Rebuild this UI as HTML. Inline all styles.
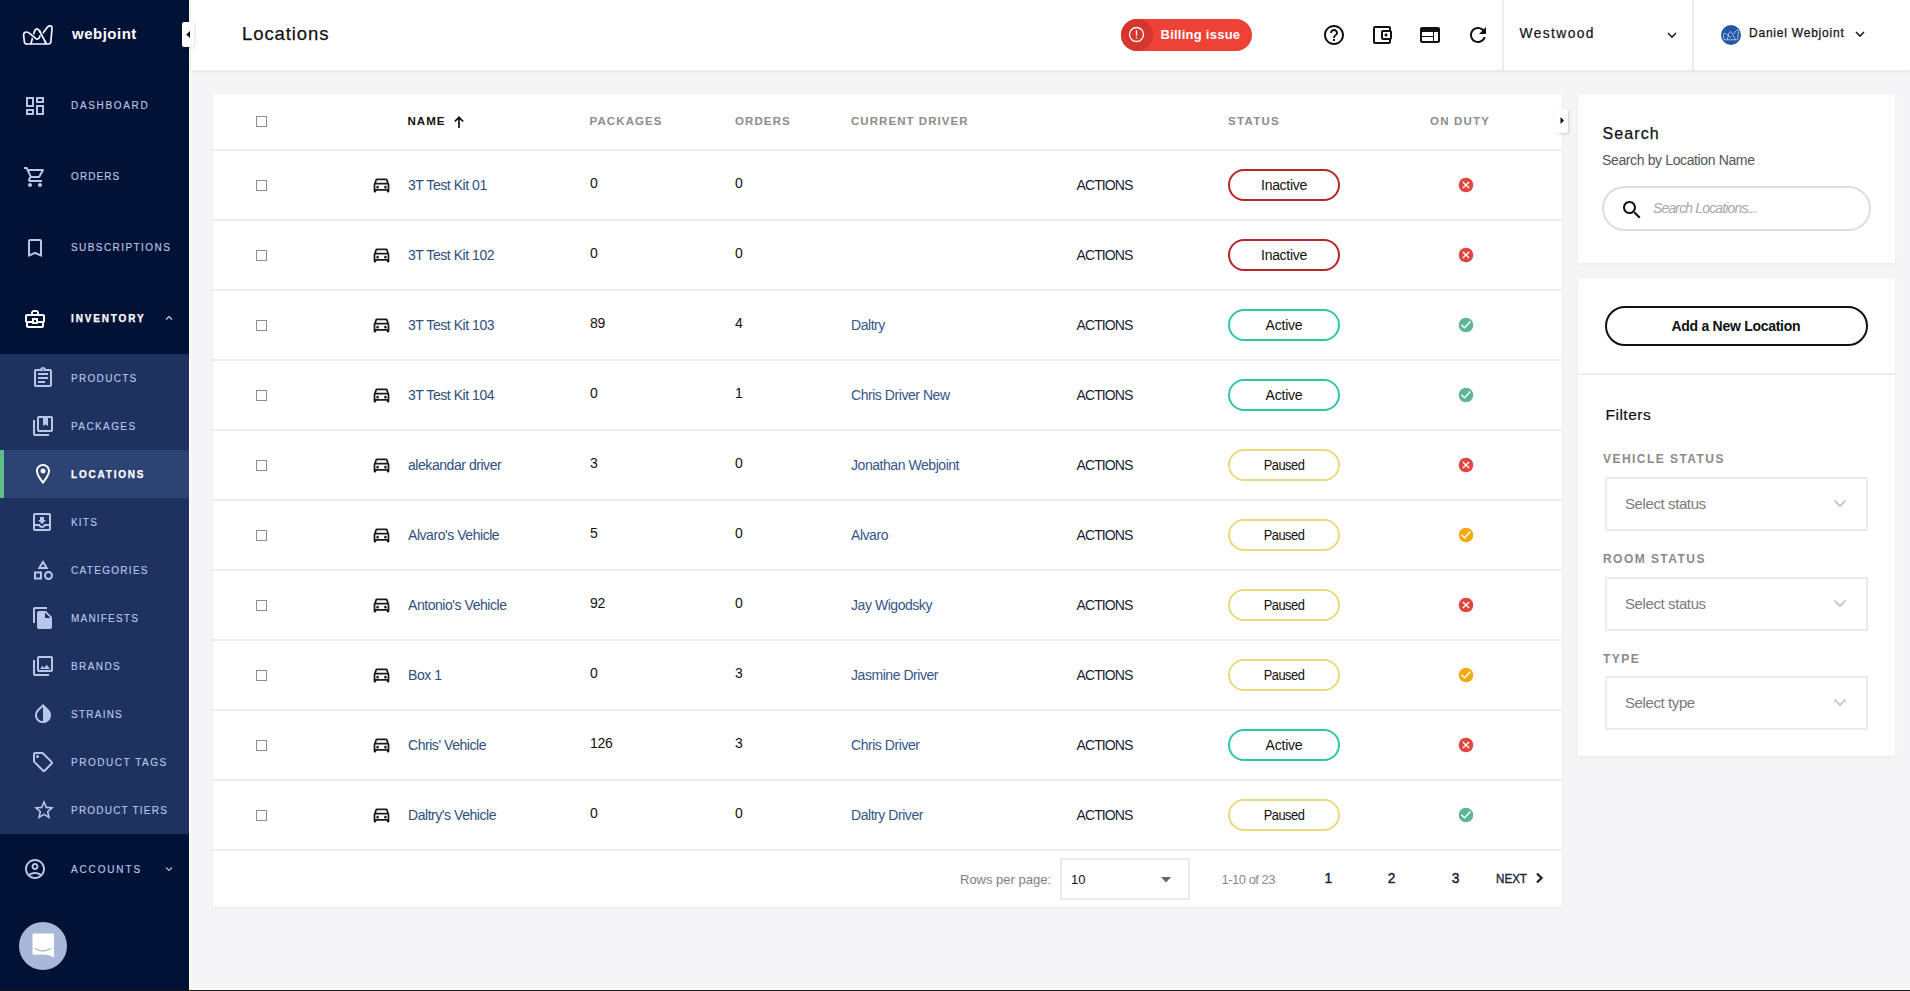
<!DOCTYPE html>
<html><head><meta charset="utf-8"><title>Locations</title>
<style>
html,body{margin:0;padding:0;width:1910px;height:991px;overflow:hidden;background:#F5F5F7}
body{position:relative;font-family:"Liberation Sans", sans-serif}
.t{position:absolute;white-space:nowrap;font-family:"Liberation Sans", sans-serif}
svg{display:block}
</style></head><body>
<div style="position:absolute;left:0px;top:0px;width:1910px;height:991px;background:#F5F5F7"></div>
<div style="position:absolute;left:189px;top:0px;width:1px;height:990px;background:#fff"></div>
<div style="position:absolute;left:190px;top:0px;width:1px;height:990px;background:#FAFAFB"></div>
<div style="position:absolute;left:189px;top:988px;width:1721px;height:2px;background:#fff"></div>
<div style="position:absolute;left:0px;top:990px;width:1910px;height:1px;background:#161616"></div>
<div style="position:absolute;left:0px;top:0px;width:189px;height:990px;background:#021237"></div>
<div style="position:absolute;left:0px;top:354px;width:189px;height:480px;background:#1E3260"></div>
<div style="position:absolute;left:0px;top:450px;width:189px;height:48px;background:#2C4373"></div>
<div style="position:absolute;left:0px;top:450px;width:4px;height:48px;background:#5FBF8C"></div>
<svg style="position:absolute;left:20px;top:20px" width="38" height="30" viewBox="0 0 38 30"><g fill="none" stroke-linejoin="round" stroke-linecap="round"><path d="M6.5 24 L28.5 24 Q30.6 24 30.8 22 L32 8.5 Q32.2 5.6 29.6 5.8 Q28.2 6 27.2 7.4 L22.6 13.6" stroke="#F4F6FF" stroke-width="1.7"/><path d="M11 23.6 L14.2 12 Q15.3 8.8 16.9 8.8 Q18.5 8.8 19.6 11 L26.2 23.6" stroke="#F4F6FF" stroke-width="1.7"/><path d="M20.3 12.4 L24.6 20.6" stroke="#021237" stroke-width="3.6" stroke-linecap="butt"/><path d="M19.6 11 L26.2 23.6" stroke="#F4F6FF" stroke-width="1.7"/><path d="M9.6 13.4 L15.6 18.4" stroke="#021237" stroke-width="3.6" stroke-linecap="butt"/><path d="M6.5 24 Q4.6 24 4.4 22 L3.6 15.2 Q3.5 12 6.6 12 Q8 12 9.6 13.4 L15.6 18.4 Q17.4 19.8 19 18.2 Q19.9 17.2 19.9 15.8" stroke="#F4F6FF" stroke-width="1.7"/></g></svg>
<div class="t" style="left:72.00px;top:26.10px;font-size:15px;line-height:15px;font-weight:700;color:#fff;letter-spacing:0.5px;font-style:normal;">webjoint</div>
<svg style="position:absolute;left:23px;top:94px;" width="24" height="24" viewBox="0 0 24 24"><path fill="#B8C6E8" d="M19 5v2h-4V5h4M9 5v6H5V5h4m10 8v6h-4v-6h4M9 17v2H5v-2h4M21 3h-8v6h8V3zM11 3H3v10h8V3zm10 8h-8v10h8V11zm-10 4H3v6h8v-6z"/></svg>
<div class="t" style="left:71.00px;top:100.53px;font-size:10px;line-height:10px;font-weight:400;color:#B8C6E8;letter-spacing:1.66px;font-style:normal;-webkit-text-stroke:0.15px #B8C6E8">DASHBOARD</div>
<svg style="position:absolute;left:23px;top:165px;" width="24" height="24" viewBox="0 0 24 24"><path fill="#B8C6E8" d="M15.55 13c.75 0 1.41-.41 1.75-1.03l3.58-6.49c.37-.66-.11-1.48-.87-1.48H5.21l-.94-2H1v2h2l3.6 7.59-1.35 2.44C4.52 15.37 5.48 17 7 17h12v-2H7l1.1-2h7.45zM6.16 6h12.15l-2.76 5H8.53L6.16 6zM7 18c-1.1 0-1.99.9-1.99 2S5.9 22 7 22s2-.9 2-2-.9-2-2-2zm10 0c-1.1 0-1.99.9-1.99 2s.89 2 1.99 2 2-.9 2-2-.9-2-2-2z"/></svg>
<div class="t" style="left:71.00px;top:171.53px;font-size:10px;line-height:10px;font-weight:400;color:#B8C6E8;letter-spacing:1.1px;font-style:normal;-webkit-text-stroke:0.15px #B8C6E8">ORDERS</div>
<svg style="position:absolute;left:23px;top:236px;" width="24" height="24" viewBox="0 0 24 24"><path fill="#B8C6E8" d="M17 3H7c-1.1 0-1.99.9-1.99 2L5 21l7-3 7 3V5c0-1.1-.9-2-2-2zm0 15l-5-2.18L7 18V5h10v13z"/></svg>
<div class="t" style="left:71.00px;top:242.53px;font-size:10px;line-height:10px;font-weight:400;color:#B8C6E8;letter-spacing:1.43px;font-style:normal;-webkit-text-stroke:0.15px #B8C6E8">SUBSCRIPTIONS</div>
<svg style="position:absolute;left:23px;top:307px;" width="24" height="24" viewBox="0 0 24 24"><path fill="#fff" d="M20 7h-4V5l-2-2h-4L8 5v2H4c-1.1 0-2 .9-2 2v5c0 .75.4 1.38 1 1.73V19c0 1.11.89 2 2 2h14c1.11 0 2-.89 2-2v-3.28c.59-.35 1-.99 1-1.72V9c0-1.1-.9-2-2-2zM10 5h4v2h-4V5zM4 9h16v5h-5v-3H9v3H4V9zm9 6h-2v-2h2v2zm6 4H5v-3h4v1h6v-1h4v3z"/></svg>
<div class="t" style="left:71.00px;top:313.54px;font-size:10px;line-height:10px;font-weight:700;color:#fff;letter-spacing:1.85px;font-style:normal;-webkit-text-stroke:0.25px #fff">INVENTORY</div>
<div style="position:absolute;left:166px;top:317px;width:6px;height:4px;"></div>
<svg style="position:absolute;left:165px;top:315px" width="8" height="6" viewBox="0 0 8 6"><path d="M1 4.5 L4 1.5 L7 4.5" fill="none" stroke="#C9D3EC" stroke-width="1.2"/></svg>
<svg style="position:absolute;left:31px;top:366px;" width="24" height="24" viewBox="0 0 24 24"><path fill="#B8C6E8" d="M7 15h7v2H7zm0-4h10v2H7zm0-4h10v2H7zm12-4h-4.18C14.4 1.84 13.3 1 12 1c-1.3 0-2.4.84-2.82 2H5c-.14 0-.27.01-.4.04-.39.08-.74.28-1.01.55-.18.18-.33.4-.43.64-.1.23-.16.49-.16.77v14c0 .27.06.54.16.78s.25.45.43.64c.27.27.62.47 1.01.55.13.02.26.03.4.03h14c1.1 0 2-.9 2-2V5c0-1.1-.9-2-2-2zm-7-.25c.41 0 .75.34.75.75s-.34.75-.75.75-.75-.34-.75-.75.34-.75.75-.75zM19 19H5V5h14v14z"/></svg>
<div class="t" style="left:71.00px;top:373.54px;font-size:10px;line-height:10px;font-weight:400;color:#B8C6E8;letter-spacing:1.31px;font-style:normal;-webkit-text-stroke:0.15px #B8C6E8">PRODUCTS</div>
<svg style="position:absolute;left:31px;top:414px;" width="24" height="24" viewBox="0 0 24 24"><path fill="#B8C6E8" d="M4 6H2v14c0 1.1.9 2 2 2h14v-2H4V6zm16-4H8c-1.1 0-2 .9-2 2v12c0 1.1.9 2 2 2h12c1.1 0 2-.9 2-2V4c0-1.1-.9-2-2-2zm0 14H8V4h4v8l2.5-1.5L17 12V4h3v12z"/></svg>
<div class="t" style="left:71.00px;top:421.54px;font-size:10px;line-height:10px;font-weight:400;color:#B8C6E8;letter-spacing:1.4px;font-style:normal;-webkit-text-stroke:0.15px #B8C6E8">PACKAGES</div>
<svg style="position:absolute;left:31px;top:462px;" width="24" height="24" viewBox="0 0 24 24"><path fill="#fff" d="M12 2C8.13 2 5 5.13 5 9c0 5.25 7 13 7 13s7-7.75 7-13c0-3.87-3.13-7-7-7zM7 9c0-2.76 2.24-5 5-5s5 2.24 5 5c0 2.88-2.88 7.19-5 9.88C9.92 16.21 7 11.85 7 9zM12 11.5a2.5 2.5 0 100-5 2.5 2.5 0 000 5z"/></svg>
<div class="t" style="left:71.00px;top:469.54px;font-size:10px;line-height:10px;font-weight:700;color:#fff;letter-spacing:1.8px;font-style:normal;-webkit-text-stroke:0.25px #fff">LOCATIONS</div>
<svg style="position:absolute;left:30px;top:510px;" width="24" height="24" viewBox="0 0 24 24"><path fill="#B8C6E8" d="M19 3H4.99C3.88 3 3.01 3.9 3.01 5L3 19c0 1.1.88 2 1.99 2H19c1.1 0 2-.9 2-2V5c0-1.1-.9-2-2-2zm0 16H5v-3h3.56c.69 1.19 1.97 2 3.45 2s2.75-.81 3.45-2H19v3zm0-5h-4.99c0 1.1-.9 2-2 2s-2-.9-2-2H5V5h14v9zm-3-4h-2V7h-4v3H8l4 4 4-4z"/></svg>
<div class="t" style="left:71.00px;top:517.53px;font-size:10px;line-height:10px;font-weight:400;color:#B8C6E8;letter-spacing:1.19px;font-style:normal;-webkit-text-stroke:0.15px #B8C6E8">KITS</div>
<svg style="position:absolute;left:31px;top:558px;" width="24" height="24" viewBox="0 0 24 24"><path fill="#B8C6E8" d="M12 2l-5.5 9h11L12 2zm0 3.84L13.93 9h-3.87L12 5.84zM17.5 13c-2.49 0-4.5 2.01-4.5 4.5s2.01 4.5 4.5 4.5 4.5-2.01 4.5-4.5-2.01-4.5-4.5-4.5zm0 7c-1.38 0-2.5-1.12-2.5-2.5s1.12-2.5 2.5-2.5 2.5 1.12 2.5 2.5-1.12 2.5-2.5 2.5zM3 21.5h8v-8H3v8zm2-6h4v4H5v-4z"/></svg>
<div class="t" style="left:71.00px;top:565.53px;font-size:10px;line-height:10px;font-weight:400;color:#B8C6E8;letter-spacing:1.3px;font-style:normal;-webkit-text-stroke:0.15px #B8C6E8">CATEGORIES</div>
<svg style="position:absolute;left:31px;top:606px;" width="24" height="24" viewBox="0 0 24 24"><path fill="#B8C6E8" d="M16 1H4c-1.1 0-2 .9-2 2v14h2V3h12V1zm-1 4l6 6v10c0 1.1-.9 2-2 2H7.99C6.89 23 6 22.1 6 21l.01-14c0-1.1.89-2 1.99-2h7zm-1 7h5.5L14 6.5V12z"/></svg>
<div class="t" style="left:71.00px;top:613.53px;font-size:10px;line-height:10px;font-weight:400;color:#B8C6E8;letter-spacing:1.2px;font-style:normal;-webkit-text-stroke:0.15px #B8C6E8">MANIFESTS</div>
<svg style="position:absolute;left:31px;top:654px;" width="24" height="24" viewBox="0 0 24 24"><path fill="#B8C6E8" d="M20 4v12H8V4h12m0-2H8c-1.1 0-2 .9-2 2v12c0 1.1.9 2 2 2h12c1.1 0 2-.9 2-2V4c0-1.1-.9-2-2-2zm-8.5 9.67l1.69 2.26 2.48-3.1L19 15H9zM2 6v14c0 1.1.9 2 2 2h14v-2H4V6H2z"/></svg>
<div class="t" style="left:71.00px;top:661.53px;font-size:10px;line-height:10px;font-weight:400;color:#B8C6E8;letter-spacing:1.42px;font-style:normal;-webkit-text-stroke:0.15px #B8C6E8">BRANDS</div>
<svg style="position:absolute;left:31px;top:702px;" width="24" height="24" viewBox="0 0 24 24"><path fill="#B8C6E8" d="M12 4.81V19c-3.31 0-6-2.63-6-5.87 0-1.56.62-3.03 1.75-4.14L12 4.81M6.35 7.56C4.9 8.99 4 10.96 4 13.13 4 17.48 7.58 21 12 21c4.42 0 8-3.52 8-7.87 0-2.17-.9-4.14-2.35-5.57L12 2 6.35 7.56z"/></svg>
<div class="t" style="left:71.00px;top:709.53px;font-size:10px;line-height:10px;font-weight:400;color:#B8C6E8;letter-spacing:1.24px;font-style:normal;-webkit-text-stroke:0.15px #B8C6E8">STRAINS</div>
<svg style="position:absolute;left:31px;top:750px;" width="24" height="24" viewBox="0 0 24 24"><path fill="#B8C6E8" d="M21.41 11.41l-8.83-8.83c-.37-.37-.88-.58-1.41-.58H4c-1.1 0-2 .9-2 2v7.17c0 .53.21 1.04.59 1.41l8.83 8.83c.78.78 2.05.78 2.83 0l7.17-7.17c.78-.78.78-2.04-.01-2.83zM12.83 20L4 11.17V4h7.17L20 12.83 12.83 20zM6.5 5a1.5 1.5 0 1 0 0 3 1.5 1.5 0 0 0 0-3z"/></svg>
<div class="t" style="left:71.00px;top:757.53px;font-size:10px;line-height:10px;font-weight:400;color:#B8C6E8;letter-spacing:1.54px;font-style:normal;-webkit-text-stroke:0.15px #B8C6E8">PRODUCT TAGS</div>
<svg style="position:absolute;left:31.5px;top:798px;" width="24" height="24" viewBox="0 0 24 24"><path fill="#B8C6E8" d="M22 9.24l-7.19-.62L12 2 9.19 8.63 2 9.24l5.46 4.73L5.82 21 12 17.27 18.18 21l-1.63-7.03L22 9.24zM12 15.4l-3.76 2.27 1-4.28-3.32-2.88 4.38-.38L12 6.1l1.71 4.04 4.38.38-3.32 2.88 1 4.28L12 15.4z"/></svg>
<div class="t" style="left:71.00px;top:805.53px;font-size:10px;line-height:10px;font-weight:400;color:#B8C6E8;letter-spacing:1.21px;font-style:normal;-webkit-text-stroke:0.15px #B8C6E8">PRODUCT TIERS</div>
<svg style="position:absolute;left:23px;top:857px;" width="24" height="24" viewBox="0 0 24 24"><path fill="#B8C6E8" d="M12 2C6.48 2 2 6.48 2 12s4.48 10 10 10 10-4.48 10-10S17.52 2 12 2zM7.35 18.5C8.66 17.56 10.26 17 12 17s3.34.56 4.65 1.5c-1.31.94-2.91 1.5-4.65 1.5s-3.34-.56-4.65-1.5zm10.79-1.38C16.45 15.8 14.32 15 12 15s-4.45.8-6.14 2.12C4.7 15.73 4 13.95 4 12c0-4.42 3.58-8 8-8s8 3.58 8 8c0 1.95-.7 3.73-1.86 5.12zM12 5.93c-1.93 0-3.5 1.57-3.5 3.5s1.57 3.5 3.5 3.5 3.5-1.57 3.5-3.5-1.57-3.5-3.5-3.5zm0 5c-.83 0-1.5-.67-1.5-1.5s.67-1.5 1.5-1.5 1.5.67 1.5 1.5-.67 1.5-1.5 1.5z"/></svg>
<div class="t" style="left:71.00px;top:864.53px;font-size:10px;line-height:10px;font-weight:400;color:#B8C6E8;letter-spacing:1.85px;font-style:normal;-webkit-text-stroke:0.15px #B8C6E8">ACCOUNTS</div>
<svg style="position:absolute;left:165px;top:866px" width="8" height="6" viewBox="0 0 8 6"><path d="M1 1.5 L4 4.5 L7 1.5" fill="none" stroke="#B2C1E4" stroke-width="1.2"/></svg>
<div style="position:absolute;left:19px;top:922px;width:48px;height:48px;background:#A9B8D8;border-radius:50%"></div>
<svg style="position:absolute;left:32px;top:933px" width="23" height="25" viewBox="0 0 23 25"><path d="M0.5 1.8 Q0.5 0.5 1.8 0.5 L20.7 0.5 Q22 0.5 22 1.8 L22 24.5 Q17 21.4 11 21.4 L1.8 21.7 Q0.5 21.7 0.5 20.4 Z" fill="#fff"/><path d="M3.5 15.6 Q11 20.5 18.5 15.6" fill="none" stroke="#9AA3B8" stroke-width="1.1" stroke-linecap="round"/></svg>
<div style="position:absolute;left:191px;top:0px;width:1719px;height:70px;background:#fff;box-shadow:0 1px 4px rgba(0,0,0,0.09)"></div>
<div class="t" style="left:242.00px;top:25.34px;font-size:18.5px;line-height:18.5px;font-weight:400;color:#111;letter-spacing:0.9px;font-style:normal;-webkit-text-stroke:0.25px #111">Locations</div>
<div style="position:absolute;left:1121px;top:19px;width:131px;height:32px;background:#EE4236;border-radius:16px;overflow:hidden"></div>
<div style="position:absolute;left:1121px;top:19px;width:32px;height:32px;background:#D5362D;border-radius:16px"></div>
<svg style="position:absolute;left:1128px;top:26px" width="17" height="17" viewBox="0 0 17 17"><circle cx="8.5" cy="8.5" r="7" fill="none" stroke="#fff" stroke-width="1.3"/><rect x="7.8" y="4.3" width="1.4" height="5.6" fill="#fff"/><rect x="7.8" y="11" width="1.4" height="1.4" fill="#fff"/></svg>
<div class="t" style="left:1160.50px;top:27.60px;font-size:13px;line-height:13px;font-weight:700;color:#fff;letter-spacing:0.25px;font-style:normal;">Billing issue</div>
<svg style="position:absolute;left:1322px;top:23px;" width="24" height="24" viewBox="0 0 24 24"><path fill="#111" d="M11 18h2v-2h-2v2zm1-16C6.48 2 2 6.48 2 12s4.48 10 10 10 10-4.48 10-10S17.52 2 12 2zm0 18c-4.41 0-8-3.59-8-8s3.59-8 8-8 8 3.59 8 8-3.59 8-8 8zm0-14c-2.21 0-4 1.79-4 4h2c0-1.1.9-2 2-2s2 .9 2 2c0 2-3 1.75-3 5h2c0-2.25 3-2.5 3-5 0-2.21-1.79-4-4-4z"/></svg>
<svg style="position:absolute;left:1370px;top:23px;" width="24" height="24" viewBox="0 0 24 24"><path fill="#111" d="M21 7.28V5c0-1.1-.9-2-2-2H5c-1.11 0-2 .9-2 2v14c0 1.1.89 2 2 2h14c1.1 0 2-.9 2-2v-2.28c.59-.35 1-.98 1-1.72V9c0-.74-.41-1.37-1-1.72zM20 9v6h-7V9h7zM5 19V5h14v2h-6c-1.1 0-2 .9-2 2v6c0 1.1.9 2 2 2h6v2H5zM16 13.5c.83 0 1.5-.67 1.5-1.5s-.67-1.5-1.5-1.5-1.5.67-1.5 1.5.67 1.5 1.5 1.5z"/></svg>
<svg style="position:absolute;left:1418px;top:23px;" width="24" height="24" viewBox="0 0 24 24"><path fill="#111" d="M20 4H4c-1.1 0-1.99.9-1.99 2L2 18c0 1.1.9 2 2 2h16c1.1 0 2-.9 2-2V6c0-1.1-.9-2-2-2zm-5 14H4v-4h11v4zm0-5H4V9h11v4zm5 5h-4V9h4v9z"/></svg>
<svg style="position:absolute;left:1466px;top:23px;" width="24" height="24" viewBox="0 0 24 24"><path fill="#111" d="M17.65 6.35C16.2 4.9 14.21 4 12 4c-4.42 0-7.99 3.58-7.99 8s3.57 8 7.99 8c3.73 0 6.84-2.55 7.73-6h-2.08c-.82 2.33-3.04 4-5.65 4-3.31 0-6-2.69-6-6s2.69-6 6-6c1.66 0 3.14.69 4.22 1.78L13 11h7V4l-2.35 2.35z"/></svg>
<div style="position:absolute;left:1502px;top:0px;width:2px;height:70px;background:#EDEDED"></div>
<div style="position:absolute;left:1692px;top:0px;width:2px;height:70px;background:#EDEDED"></div>
<div class="t" style="left:1519.50px;top:26.92px;font-size:13.8px;line-height:13.8px;font-weight:400;color:#111;letter-spacing:1.4px;font-style:normal;-webkit-text-stroke:0.2px #111">Westwood</div>
<svg style="position:absolute;left:1666px;top:31px" width="12" height="8" viewBox="0 0 12 8"><path d="M2 2 L6 6 L10 2" fill="none" stroke="#222" stroke-width="1.6"/></svg>
<div style="position:absolute;left:1721px;top:25px;width:20px;height:20px;background:#2456A6;border-radius:50%"></div>
<svg style="position:absolute;left:1723px;top:28px" width="16" height="14" viewBox="3 4 30 22"><g fill="none" stroke="#CAD8F6" stroke-width="1.5" stroke-linejoin="round"><path d="M6.5 24 L28.5 24 Q30.6 24 30.8 22 L32 8.5 Q32.2 5.6 29.6 5.8 Q28.2 6 27.2 7.4 L22.8 13.2"/><path d="M6.5 24 Q4.6 24 4.4 22 L3.6 15.2 Q3.5 12 6.6 12 Q8 12 9.6 13.4 L15.6 18.4 Q17.4 19.8 19 18.2"/><path d="M11 23.6 L14.2 12 Q15.3 8.8 16.9 8.8 Q18.5 8.8 19.6 11 L26.2 23.6"/></g></svg>
<div class="t" style="left:1749.00px;top:27.44px;font-size:12px;line-height:12px;font-weight:400;color:#111;letter-spacing:0.78px;font-style:normal;-webkit-text-stroke:0.25px #111">Daniel Webjoint</div>
<svg style="position:absolute;left:1854px;top:30px" width="12" height="8" viewBox="0 0 12 8"><path d="M2 2 L6 6 L10 2" fill="none" stroke="#222" stroke-width="1.6"/></svg>
<div style="position:absolute;left:182px;top:22px;width:12px;height:25px;background:#fff;border-radius:2px;box-shadow:1px 1px 3px rgba(0,0,0,0.12)"></div>
<svg style="position:absolute;left:185px;top:30px" width="6" height="9" viewBox="0 0 6 9"><path d="M5 1 L1.2 4.5 L5 8 Z" fill="#111"/></svg>
<div style="position:absolute;left:213px;top:94px;width:1349px;height:813px;background:#fff;box-shadow:0 1px 3px rgba(0,0,0,0.06)"></div>
<div style="position:absolute;left:213px;top:149px;width:1349px;height:2px;background:#EDEDED"></div>
<div style="position:absolute;left:213px;top:219px;width:1349px;height:2px;background:#EDEDED"></div>
<div style="position:absolute;left:213px;top:289px;width:1349px;height:2px;background:#EDEDED"></div>
<div style="position:absolute;left:213px;top:359px;width:1349px;height:2px;background:#EDEDED"></div>
<div style="position:absolute;left:213px;top:429px;width:1349px;height:2px;background:#EDEDED"></div>
<div style="position:absolute;left:213px;top:499px;width:1349px;height:2px;background:#EDEDED"></div>
<div style="position:absolute;left:213px;top:569px;width:1349px;height:2px;background:#EDEDED"></div>
<div style="position:absolute;left:213px;top:639px;width:1349px;height:2px;background:#EDEDED"></div>
<div style="position:absolute;left:213px;top:709px;width:1349px;height:2px;background:#EDEDED"></div>
<div style="position:absolute;left:213px;top:779px;width:1349px;height:2px;background:#EDEDED"></div>
<div style="position:absolute;left:213px;top:849px;width:1349px;height:2px;background:#EDEDED"></div>
<div style="position:absolute;left:1555px;top:109px;width:13px;height:24px;background:#fff;border-radius:2px;box-shadow:1px 1px 3px rgba(0,0,0,0.15)"></div>
<svg style="position:absolute;left:1559px;top:116px" width="6" height="9" viewBox="0 0 6 9"><path d="M1.5 1 L5 4.5 L1.5 8 Z" fill="#111"/></svg>
<div style="position:absolute;left:256px;top:116px;width:11px;height:11px;box-sizing:border-box;border:1.5px solid #8E8E8E;background:#fff"></div>
<div class="t" style="left:407.50px;top:115.67px;font-size:11.5px;line-height:11.5px;font-weight:700;color:#111;letter-spacing:1.05px;font-style:normal;">NAME</div>
<svg style="position:absolute;left:452px;top:115px" width="14" height="14" viewBox="0 0 14 14"><path d="M7 13 V2.5 M2.8 6.5 L7 2.3 L11.2 6.5" fill="none" stroke="#111" stroke-width="1.7"/></svg>
<div class="t" style="left:589.50px;top:115.67px;font-size:11.5px;line-height:11.5px;font-weight:700;color:#8C8C8C;letter-spacing:1.1px;font-style:normal;">PACKAGES</div>
<div class="t" style="left:735.00px;top:115.67px;font-size:11.5px;line-height:11.5px;font-weight:700;color:#8C8C8C;letter-spacing:1.1px;font-style:normal;">ORDERS</div>
<div class="t" style="left:851.00px;top:115.67px;font-size:11.5px;line-height:11.5px;font-weight:700;color:#8C8C8C;letter-spacing:1.05px;font-style:normal;">CURRENT DRIVER</div>
<div class="t" style="left:1228.00px;top:115.67px;font-size:11.5px;line-height:11.5px;font-weight:700;color:#8C8C8C;letter-spacing:1.3px;font-style:normal;">STATUS</div>
<div class="t" style="left:1430.00px;top:115.67px;font-size:11.5px;line-height:11.5px;font-weight:700;color:#8C8C8C;letter-spacing:1.2px;font-style:normal;">ON DUTY</div>
<div style="position:absolute;left:256px;top:180px;width:11px;height:11px;box-sizing:border-box;border:1.5px solid #8E8E8E;background:#fff"></div>
<svg style="position:absolute;left:370.5px;top:174px;" width="21" height="21" viewBox="0 0 24 24"><path fill="#1A1A1A" d="M18.92 6.01C18.72 5.42 18.16 5 17.5 5h-11c-.66 0-1.21.42-1.42 1.01L3 12v8c0 .55.45 1 1 1h1c.55 0 1-.45 1-1v-1h12v1c0 .55.45 1 1 1h1c.55 0 1-.45 1-1v-8l-2.08-5.99zM6.85 7h10.29l1.08 3.11H5.77L6.85 7zM19 17H5v-5h14v5zM7.5 13.5c-.83 0-1.5.67-1.5 1.5s.67 1.5 1.5 1.5S9 15.83 9 15s-.67-1.5-1.5-1.5zM16.5 13.5c-.83 0-1.5.67-1.5 1.5s.67 1.5 1.5 1.5 1.5-.67 1.5-1.5-.67-1.5-1.5-1.5z"/></svg>
<div class="t" style="left:408.00px;top:178.25px;font-size:14px;line-height:14px;font-weight:400;color:#2F4E7D;letter-spacing:-0.45px;font-style:normal;">3T Test Kit 01</div>
<div class="t" style="left:590.00px;top:176.35px;font-size:14px;line-height:14px;font-weight:400;color:#111;letter-spacing:-0.3px;font-style:normal;">0</div>
<div class="t" style="left:735.00px;top:176.35px;font-size:14px;line-height:14px;font-weight:400;color:#111;letter-spacing:-0.3px;font-style:normal;">0</div>
<div class="t" style="left:1076.50px;top:178.25px;font-size:14px;line-height:14px;font-weight:400;color:#1B2333;letter-spacing:-0.9px;font-style:normal;">ACTIONS</div>
<div style="position:absolute;left:1228px;top:169px;width:112px;height:32px;box-sizing:border-box;border:2px solid #B8242A;border-radius:16px"></div>
<div class="t" style="left:1228px;top:177.75px;width:112px;text-align:center;font-size:14px;line-height:14px;color:#111;letter-spacing:-0.3px;transform:scaleX(1);transform-origin:56px 0">Inactive</div>
<svg style="position:absolute;left:1458px;top:177px" width="16" height="16" viewBox="0 0 16 16"><circle cx="8" cy="8" r="7.3" fill="#E0463D"/><path d="M4.9 4.9 L11.1 11.1 M11.1 4.9 L4.9 11.1" stroke="#fff" stroke-width="1.4"/></svg>
<div style="position:absolute;left:256px;top:250px;width:11px;height:11px;box-sizing:border-box;border:1.5px solid #8E8E8E;background:#fff"></div>
<svg style="position:absolute;left:370.5px;top:244px;" width="21" height="21" viewBox="0 0 24 24"><path fill="#1A1A1A" d="M18.92 6.01C18.72 5.42 18.16 5 17.5 5h-11c-.66 0-1.21.42-1.42 1.01L3 12v8c0 .55.45 1 1 1h1c.55 0 1-.45 1-1v-1h12v1c0 .55.45 1 1 1h1c.55 0 1-.45 1-1v-8l-2.08-5.99zM6.85 7h10.29l1.08 3.11H5.77L6.85 7zM19 17H5v-5h14v5zM7.5 13.5c-.83 0-1.5.67-1.5 1.5s.67 1.5 1.5 1.5S9 15.83 9 15s-.67-1.5-1.5-1.5zM16.5 13.5c-.83 0-1.5.67-1.5 1.5s.67 1.5 1.5 1.5 1.5-.67 1.5-1.5-.67-1.5-1.5-1.5z"/></svg>
<div class="t" style="left:408.00px;top:248.25px;font-size:14px;line-height:14px;font-weight:400;color:#2F4E7D;letter-spacing:-0.45px;font-style:normal;">3T Test Kit 102</div>
<div class="t" style="left:590.00px;top:246.35px;font-size:14px;line-height:14px;font-weight:400;color:#111;letter-spacing:-0.3px;font-style:normal;">0</div>
<div class="t" style="left:735.00px;top:246.35px;font-size:14px;line-height:14px;font-weight:400;color:#111;letter-spacing:-0.3px;font-style:normal;">0</div>
<div class="t" style="left:1076.50px;top:248.25px;font-size:14px;line-height:14px;font-weight:400;color:#1B2333;letter-spacing:-0.9px;font-style:normal;">ACTIONS</div>
<div style="position:absolute;left:1228px;top:239px;width:112px;height:32px;box-sizing:border-box;border:2px solid #B8242A;border-radius:16px"></div>
<div class="t" style="left:1228px;top:247.75px;width:112px;text-align:center;font-size:14px;line-height:14px;color:#111;letter-spacing:-0.3px;transform:scaleX(1);transform-origin:56px 0">Inactive</div>
<svg style="position:absolute;left:1458px;top:247px" width="16" height="16" viewBox="0 0 16 16"><circle cx="8" cy="8" r="7.3" fill="#E0463D"/><path d="M4.9 4.9 L11.1 11.1 M11.1 4.9 L4.9 11.1" stroke="#fff" stroke-width="1.4"/></svg>
<div style="position:absolute;left:256px;top:320px;width:11px;height:11px;box-sizing:border-box;border:1.5px solid #8E8E8E;background:#fff"></div>
<svg style="position:absolute;left:370.5px;top:314px;" width="21" height="21" viewBox="0 0 24 24"><path fill="#1A1A1A" d="M18.92 6.01C18.72 5.42 18.16 5 17.5 5h-11c-.66 0-1.21.42-1.42 1.01L3 12v8c0 .55.45 1 1 1h1c.55 0 1-.45 1-1v-1h12v1c0 .55.45 1 1 1h1c.55 0 1-.45 1-1v-8l-2.08-5.99zM6.85 7h10.29l1.08 3.11H5.77L6.85 7zM19 17H5v-5h14v5zM7.5 13.5c-.83 0-1.5.67-1.5 1.5s.67 1.5 1.5 1.5S9 15.83 9 15s-.67-1.5-1.5-1.5zM16.5 13.5c-.83 0-1.5.67-1.5 1.5s.67 1.5 1.5 1.5 1.5-.67 1.5-1.5-.67-1.5-1.5-1.5z"/></svg>
<div class="t" style="left:408.00px;top:318.25px;font-size:14px;line-height:14px;font-weight:400;color:#2F4E7D;letter-spacing:-0.45px;font-style:normal;">3T Test Kit 103</div>
<div class="t" style="left:590.00px;top:316.35px;font-size:14px;line-height:14px;font-weight:400;color:#111;letter-spacing:-0.3px;font-style:normal;">89</div>
<div class="t" style="left:735.00px;top:316.35px;font-size:14px;line-height:14px;font-weight:400;color:#111;letter-spacing:-0.3px;font-style:normal;">4</div>
<div class="t" style="left:851.00px;top:318.25px;font-size:14px;line-height:14px;font-weight:400;color:#35558A;letter-spacing:-0.45px;font-style:normal;">Daltry</div>
<div class="t" style="left:1076.50px;top:318.25px;font-size:14px;line-height:14px;font-weight:400;color:#1B2333;letter-spacing:-0.9px;font-style:normal;">ACTIONS</div>
<div style="position:absolute;left:1228px;top:309px;width:112px;height:32px;box-sizing:border-box;border:2px solid #2CC7A6;border-radius:16px"></div>
<div class="t" style="left:1228px;top:317.75px;width:112px;text-align:center;font-size:14px;line-height:14px;color:#111;letter-spacing:-0.2px;transform:scaleX(1);transform-origin:56px 0">Active</div>
<svg style="position:absolute;left:1458px;top:317px" width="16" height="16" viewBox="0 0 16 16"><circle cx="8" cy="8" r="7.3" fill="#5FB693"/><path d="M3.4 7.9 L6.6 10.7 L12.4 4.5" fill="none" stroke="#fff" stroke-width="1.4"/></svg>
<div style="position:absolute;left:256px;top:390px;width:11px;height:11px;box-sizing:border-box;border:1.5px solid #8E8E8E;background:#fff"></div>
<svg style="position:absolute;left:370.5px;top:384px;" width="21" height="21" viewBox="0 0 24 24"><path fill="#1A1A1A" d="M18.92 6.01C18.72 5.42 18.16 5 17.5 5h-11c-.66 0-1.21.42-1.42 1.01L3 12v8c0 .55.45 1 1 1h1c.55 0 1-.45 1-1v-1h12v1c0 .55.45 1 1 1h1c.55 0 1-.45 1-1v-8l-2.08-5.99zM6.85 7h10.29l1.08 3.11H5.77L6.85 7zM19 17H5v-5h14v5zM7.5 13.5c-.83 0-1.5.67-1.5 1.5s.67 1.5 1.5 1.5S9 15.83 9 15s-.67-1.5-1.5-1.5zM16.5 13.5c-.83 0-1.5.67-1.5 1.5s.67 1.5 1.5 1.5 1.5-.67 1.5-1.5-.67-1.5-1.5-1.5z"/></svg>
<div class="t" style="left:408.00px;top:388.25px;font-size:14px;line-height:14px;font-weight:400;color:#2F4E7D;letter-spacing:-0.45px;font-style:normal;">3T Test Kit 104</div>
<div class="t" style="left:590.00px;top:386.35px;font-size:14px;line-height:14px;font-weight:400;color:#111;letter-spacing:-0.3px;font-style:normal;">0</div>
<div class="t" style="left:735.00px;top:386.35px;font-size:14px;line-height:14px;font-weight:400;color:#111;letter-spacing:-0.3px;font-style:normal;">1</div>
<div class="t" style="left:851.00px;top:388.25px;font-size:14px;line-height:14px;font-weight:400;color:#35558A;letter-spacing:-0.45px;font-style:normal;">Chris Driver New</div>
<div class="t" style="left:1076.50px;top:388.25px;font-size:14px;line-height:14px;font-weight:400;color:#1B2333;letter-spacing:-0.9px;font-style:normal;">ACTIONS</div>
<div style="position:absolute;left:1228px;top:379px;width:112px;height:32px;box-sizing:border-box;border:2px solid #2CC7A6;border-radius:16px"></div>
<div class="t" style="left:1228px;top:387.75px;width:112px;text-align:center;font-size:14px;line-height:14px;color:#111;letter-spacing:-0.2px;transform:scaleX(1);transform-origin:56px 0">Active</div>
<svg style="position:absolute;left:1458px;top:387px" width="16" height="16" viewBox="0 0 16 16"><circle cx="8" cy="8" r="7.3" fill="#5FB693"/><path d="M3.4 7.9 L6.6 10.7 L12.4 4.5" fill="none" stroke="#fff" stroke-width="1.4"/></svg>
<div style="position:absolute;left:256px;top:460px;width:11px;height:11px;box-sizing:border-box;border:1.5px solid #8E8E8E;background:#fff"></div>
<svg style="position:absolute;left:370.5px;top:454px;" width="21" height="21" viewBox="0 0 24 24"><path fill="#1A1A1A" d="M18.92 6.01C18.72 5.42 18.16 5 17.5 5h-11c-.66 0-1.21.42-1.42 1.01L3 12v8c0 .55.45 1 1 1h1c.55 0 1-.45 1-1v-1h12v1c0 .55.45 1 1 1h1c.55 0 1-.45 1-1v-8l-2.08-5.99zM6.85 7h10.29l1.08 3.11H5.77L6.85 7zM19 17H5v-5h14v5zM7.5 13.5c-.83 0-1.5.67-1.5 1.5s.67 1.5 1.5 1.5S9 15.83 9 15s-.67-1.5-1.5-1.5zM16.5 13.5c-.83 0-1.5.67-1.5 1.5s.67 1.5 1.5 1.5 1.5-.67 1.5-1.5-.67-1.5-1.5-1.5z"/></svg>
<div class="t" style="left:408.00px;top:458.25px;font-size:14px;line-height:14px;font-weight:400;color:#2F4E7D;letter-spacing:-0.45px;font-style:normal;">alekandar driver</div>
<div class="t" style="left:590.00px;top:456.35px;font-size:14px;line-height:14px;font-weight:400;color:#111;letter-spacing:-0.3px;font-style:normal;">3</div>
<div class="t" style="left:735.00px;top:456.35px;font-size:14px;line-height:14px;font-weight:400;color:#111;letter-spacing:-0.3px;font-style:normal;">0</div>
<div class="t" style="left:851.00px;top:458.25px;font-size:14px;line-height:14px;font-weight:400;color:#35558A;letter-spacing:-0.45px;font-style:normal;">Jonathan Webjoint</div>
<div class="t" style="left:1076.50px;top:458.25px;font-size:14px;line-height:14px;font-weight:400;color:#1B2333;letter-spacing:-0.9px;font-style:normal;">ACTIONS</div>
<div style="position:absolute;left:1228px;top:449px;width:112px;height:32px;box-sizing:border-box;border:2px solid #E9DA7E;border-radius:16px"></div>
<div class="t" style="left:1228px;top:457.75px;width:112px;text-align:center;font-size:14px;line-height:14px;color:#111;letter-spacing:-0.55px;transform:scaleX(0.92);transform-origin:56px 0">Paused</div>
<svg style="position:absolute;left:1458px;top:457px" width="16" height="16" viewBox="0 0 16 16"><circle cx="8" cy="8" r="7.3" fill="#E0463D"/><path d="M4.9 4.9 L11.1 11.1 M11.1 4.9 L4.9 11.1" stroke="#fff" stroke-width="1.4"/></svg>
<div style="position:absolute;left:256px;top:530px;width:11px;height:11px;box-sizing:border-box;border:1.5px solid #8E8E8E;background:#fff"></div>
<svg style="position:absolute;left:370.5px;top:524px;" width="21" height="21" viewBox="0 0 24 24"><path fill="#1A1A1A" d="M18.92 6.01C18.72 5.42 18.16 5 17.5 5h-11c-.66 0-1.21.42-1.42 1.01L3 12v8c0 .55.45 1 1 1h1c.55 0 1-.45 1-1v-1h12v1c0 .55.45 1 1 1h1c.55 0 1-.45 1-1v-8l-2.08-5.99zM6.85 7h10.29l1.08 3.11H5.77L6.85 7zM19 17H5v-5h14v5zM7.5 13.5c-.83 0-1.5.67-1.5 1.5s.67 1.5 1.5 1.5S9 15.83 9 15s-.67-1.5-1.5-1.5zM16.5 13.5c-.83 0-1.5.67-1.5 1.5s.67 1.5 1.5 1.5 1.5-.67 1.5-1.5-.67-1.5-1.5-1.5z"/></svg>
<div class="t" style="left:408.00px;top:528.25px;font-size:14px;line-height:14px;font-weight:400;color:#2F4E7D;letter-spacing:-0.45px;font-style:normal;">Alvaro's Vehicle</div>
<div class="t" style="left:590.00px;top:526.35px;font-size:14px;line-height:14px;font-weight:400;color:#111;letter-spacing:-0.3px;font-style:normal;">5</div>
<div class="t" style="left:735.00px;top:526.35px;font-size:14px;line-height:14px;font-weight:400;color:#111;letter-spacing:-0.3px;font-style:normal;">0</div>
<div class="t" style="left:851.00px;top:528.25px;font-size:14px;line-height:14px;font-weight:400;color:#35558A;letter-spacing:-0.45px;font-style:normal;">Alvaro</div>
<div class="t" style="left:1076.50px;top:528.25px;font-size:14px;line-height:14px;font-weight:400;color:#1B2333;letter-spacing:-0.9px;font-style:normal;">ACTIONS</div>
<div style="position:absolute;left:1228px;top:519px;width:112px;height:32px;box-sizing:border-box;border:2px solid #E9DA7E;border-radius:16px"></div>
<div class="t" style="left:1228px;top:527.75px;width:112px;text-align:center;font-size:14px;line-height:14px;color:#111;letter-spacing:-0.55px;transform:scaleX(0.92);transform-origin:56px 0">Paused</div>
<svg style="position:absolute;left:1458px;top:527px" width="16" height="16" viewBox="0 0 16 16"><circle cx="8" cy="8" r="7.3" fill="#F4A90E"/><path d="M3.4 7.9 L6.6 10.7 L12.4 4.5" fill="none" stroke="#fff" stroke-width="1.4"/></svg>
<div style="position:absolute;left:256px;top:600px;width:11px;height:11px;box-sizing:border-box;border:1.5px solid #8E8E8E;background:#fff"></div>
<svg style="position:absolute;left:370.5px;top:594px;" width="21" height="21" viewBox="0 0 24 24"><path fill="#1A1A1A" d="M18.92 6.01C18.72 5.42 18.16 5 17.5 5h-11c-.66 0-1.21.42-1.42 1.01L3 12v8c0 .55.45 1 1 1h1c.55 0 1-.45 1-1v-1h12v1c0 .55.45 1 1 1h1c.55 0 1-.45 1-1v-8l-2.08-5.99zM6.85 7h10.29l1.08 3.11H5.77L6.85 7zM19 17H5v-5h14v5zM7.5 13.5c-.83 0-1.5.67-1.5 1.5s.67 1.5 1.5 1.5S9 15.83 9 15s-.67-1.5-1.5-1.5zM16.5 13.5c-.83 0-1.5.67-1.5 1.5s.67 1.5 1.5 1.5 1.5-.67 1.5-1.5-.67-1.5-1.5-1.5z"/></svg>
<div class="t" style="left:408.00px;top:598.25px;font-size:14px;line-height:14px;font-weight:400;color:#2F4E7D;letter-spacing:-0.45px;font-style:normal;">Antonio's Vehicle</div>
<div class="t" style="left:590.00px;top:596.35px;font-size:14px;line-height:14px;font-weight:400;color:#111;letter-spacing:-0.3px;font-style:normal;">92</div>
<div class="t" style="left:735.00px;top:596.35px;font-size:14px;line-height:14px;font-weight:400;color:#111;letter-spacing:-0.3px;font-style:normal;">0</div>
<div class="t" style="left:851.00px;top:598.25px;font-size:14px;line-height:14px;font-weight:400;color:#35558A;letter-spacing:-0.45px;font-style:normal;">Jay Wigodsky</div>
<div class="t" style="left:1076.50px;top:598.25px;font-size:14px;line-height:14px;font-weight:400;color:#1B2333;letter-spacing:-0.9px;font-style:normal;">ACTIONS</div>
<div style="position:absolute;left:1228px;top:589px;width:112px;height:32px;box-sizing:border-box;border:2px solid #E9DA7E;border-radius:16px"></div>
<div class="t" style="left:1228px;top:597.75px;width:112px;text-align:center;font-size:14px;line-height:14px;color:#111;letter-spacing:-0.55px;transform:scaleX(0.92);transform-origin:56px 0">Paused</div>
<svg style="position:absolute;left:1458px;top:597px" width="16" height="16" viewBox="0 0 16 16"><circle cx="8" cy="8" r="7.3" fill="#E0463D"/><path d="M4.9 4.9 L11.1 11.1 M11.1 4.9 L4.9 11.1" stroke="#fff" stroke-width="1.4"/></svg>
<div style="position:absolute;left:256px;top:670px;width:11px;height:11px;box-sizing:border-box;border:1.5px solid #8E8E8E;background:#fff"></div>
<svg style="position:absolute;left:370.5px;top:664px;" width="21" height="21" viewBox="0 0 24 24"><path fill="#1A1A1A" d="M18.92 6.01C18.72 5.42 18.16 5 17.5 5h-11c-.66 0-1.21.42-1.42 1.01L3 12v8c0 .55.45 1 1 1h1c.55 0 1-.45 1-1v-1h12v1c0 .55.45 1 1 1h1c.55 0 1-.45 1-1v-8l-2.08-5.99zM6.85 7h10.29l1.08 3.11H5.77L6.85 7zM19 17H5v-5h14v5zM7.5 13.5c-.83 0-1.5.67-1.5 1.5s.67 1.5 1.5 1.5S9 15.83 9 15s-.67-1.5-1.5-1.5zM16.5 13.5c-.83 0-1.5.67-1.5 1.5s.67 1.5 1.5 1.5 1.5-.67 1.5-1.5-.67-1.5-1.5-1.5z"/></svg>
<div class="t" style="left:408.00px;top:668.25px;font-size:14px;line-height:14px;font-weight:400;color:#2F4E7D;letter-spacing:-0.45px;font-style:normal;">Box 1</div>
<div class="t" style="left:590.00px;top:666.35px;font-size:14px;line-height:14px;font-weight:400;color:#111;letter-spacing:-0.3px;font-style:normal;">0</div>
<div class="t" style="left:735.00px;top:666.35px;font-size:14px;line-height:14px;font-weight:400;color:#111;letter-spacing:-0.3px;font-style:normal;">3</div>
<div class="t" style="left:851.00px;top:668.25px;font-size:14px;line-height:14px;font-weight:400;color:#35558A;letter-spacing:-0.45px;font-style:normal;">Jasmine Driver</div>
<div class="t" style="left:1076.50px;top:668.25px;font-size:14px;line-height:14px;font-weight:400;color:#1B2333;letter-spacing:-0.9px;font-style:normal;">ACTIONS</div>
<div style="position:absolute;left:1228px;top:659px;width:112px;height:32px;box-sizing:border-box;border:2px solid #E9DA7E;border-radius:16px"></div>
<div class="t" style="left:1228px;top:667.75px;width:112px;text-align:center;font-size:14px;line-height:14px;color:#111;letter-spacing:-0.55px;transform:scaleX(0.92);transform-origin:56px 0">Paused</div>
<svg style="position:absolute;left:1458px;top:667px" width="16" height="16" viewBox="0 0 16 16"><circle cx="8" cy="8" r="7.3" fill="#F4A90E"/><path d="M3.4 7.9 L6.6 10.7 L12.4 4.5" fill="none" stroke="#fff" stroke-width="1.4"/></svg>
<div style="position:absolute;left:256px;top:740px;width:11px;height:11px;box-sizing:border-box;border:1.5px solid #8E8E8E;background:#fff"></div>
<svg style="position:absolute;left:370.5px;top:734px;" width="21" height="21" viewBox="0 0 24 24"><path fill="#1A1A1A" d="M18.92 6.01C18.72 5.42 18.16 5 17.5 5h-11c-.66 0-1.21.42-1.42 1.01L3 12v8c0 .55.45 1 1 1h1c.55 0 1-.45 1-1v-1h12v1c0 .55.45 1 1 1h1c.55 0 1-.45 1-1v-8l-2.08-5.99zM6.85 7h10.29l1.08 3.11H5.77L6.85 7zM19 17H5v-5h14v5zM7.5 13.5c-.83 0-1.5.67-1.5 1.5s.67 1.5 1.5 1.5S9 15.83 9 15s-.67-1.5-1.5-1.5zM16.5 13.5c-.83 0-1.5.67-1.5 1.5s.67 1.5 1.5 1.5 1.5-.67 1.5-1.5-.67-1.5-1.5-1.5z"/></svg>
<div class="t" style="left:408.00px;top:738.25px;font-size:14px;line-height:14px;font-weight:400;color:#2F4E7D;letter-spacing:-0.45px;font-style:normal;">Chris' Vehicle</div>
<div class="t" style="left:590.00px;top:736.35px;font-size:14px;line-height:14px;font-weight:400;color:#111;letter-spacing:-0.3px;font-style:normal;">126</div>
<div class="t" style="left:735.00px;top:736.35px;font-size:14px;line-height:14px;font-weight:400;color:#111;letter-spacing:-0.3px;font-style:normal;">3</div>
<div class="t" style="left:851.00px;top:738.25px;font-size:14px;line-height:14px;font-weight:400;color:#35558A;letter-spacing:-0.45px;font-style:normal;">Chris Driver</div>
<div class="t" style="left:1076.50px;top:738.25px;font-size:14px;line-height:14px;font-weight:400;color:#1B2333;letter-spacing:-0.9px;font-style:normal;">ACTIONS</div>
<div style="position:absolute;left:1228px;top:729px;width:112px;height:32px;box-sizing:border-box;border:2px solid #2CC7A6;border-radius:16px"></div>
<div class="t" style="left:1228px;top:737.75px;width:112px;text-align:center;font-size:14px;line-height:14px;color:#111;letter-spacing:-0.2px;transform:scaleX(1);transform-origin:56px 0">Active</div>
<svg style="position:absolute;left:1458px;top:737px" width="16" height="16" viewBox="0 0 16 16"><circle cx="8" cy="8" r="7.3" fill="#E0463D"/><path d="M4.9 4.9 L11.1 11.1 M11.1 4.9 L4.9 11.1" stroke="#fff" stroke-width="1.4"/></svg>
<div style="position:absolute;left:256px;top:810px;width:11px;height:11px;box-sizing:border-box;border:1.5px solid #8E8E8E;background:#fff"></div>
<svg style="position:absolute;left:370.5px;top:804px;" width="21" height="21" viewBox="0 0 24 24"><path fill="#1A1A1A" d="M18.92 6.01C18.72 5.42 18.16 5 17.5 5h-11c-.66 0-1.21.42-1.42 1.01L3 12v8c0 .55.45 1 1 1h1c.55 0 1-.45 1-1v-1h12v1c0 .55.45 1 1 1h1c.55 0 1-.45 1-1v-8l-2.08-5.99zM6.85 7h10.29l1.08 3.11H5.77L6.85 7zM19 17H5v-5h14v5zM7.5 13.5c-.83 0-1.5.67-1.5 1.5s.67 1.5 1.5 1.5S9 15.83 9 15s-.67-1.5-1.5-1.5zM16.5 13.5c-.83 0-1.5.67-1.5 1.5s.67 1.5 1.5 1.5 1.5-.67 1.5-1.5-.67-1.5-1.5-1.5z"/></svg>
<div class="t" style="left:408.00px;top:808.25px;font-size:14px;line-height:14px;font-weight:400;color:#2F4E7D;letter-spacing:-0.45px;font-style:normal;">Daltry's Vehicle</div>
<div class="t" style="left:590.00px;top:806.35px;font-size:14px;line-height:14px;font-weight:400;color:#111;letter-spacing:-0.3px;font-style:normal;">0</div>
<div class="t" style="left:735.00px;top:806.35px;font-size:14px;line-height:14px;font-weight:400;color:#111;letter-spacing:-0.3px;font-style:normal;">0</div>
<div class="t" style="left:851.00px;top:808.25px;font-size:14px;line-height:14px;font-weight:400;color:#35558A;letter-spacing:-0.45px;font-style:normal;">Daltry Driver</div>
<div class="t" style="left:1076.50px;top:808.25px;font-size:14px;line-height:14px;font-weight:400;color:#1B2333;letter-spacing:-0.9px;font-style:normal;">ACTIONS</div>
<div style="position:absolute;left:1228px;top:799px;width:112px;height:32px;box-sizing:border-box;border:2px solid #E9DA7E;border-radius:16px"></div>
<div class="t" style="left:1228px;top:807.75px;width:112px;text-align:center;font-size:14px;line-height:14px;color:#111;letter-spacing:-0.55px;transform:scaleX(0.92);transform-origin:56px 0">Paused</div>
<svg style="position:absolute;left:1458px;top:807px" width="16" height="16" viewBox="0 0 16 16"><circle cx="8" cy="8" r="7.3" fill="#5FB693"/><path d="M3.4 7.9 L6.6 10.7 L12.4 4.5" fill="none" stroke="#fff" stroke-width="1.4"/></svg>
<div class="t" style="left:960.00px;top:873.40px;font-size:13px;line-height:13px;font-weight:400;color:#808080;letter-spacing:0px;font-style:normal;">Rows per page:</div>
<div style="position:absolute;left:1060px;top:858px;width:130px;height:42px;box-sizing:border-box;border:2px solid #EBEBEB;background:#fff"></div>
<div class="t" style="left:1071.00px;top:873.00px;font-size:13px;line-height:13px;font-weight:400;color:#111;letter-spacing:0px;font-style:normal;">10</div>
<svg style="position:absolute;left:1159px;top:875px" width="14" height="10" viewBox="0 0 14 10"><path d="M2 2 L12 2 L7 7.5 Z" fill="#666"/></svg>
<div class="t" style="left:1221.50px;top:873.40px;font-size:13px;line-height:13px;font-weight:400;color:#8A8A8A;letter-spacing:-0.5px;font-style:normal;">1-10 of 23</div>
<div class="t" style="left:1324.50px;top:871.62px;font-size:13.8px;line-height:13.8px;font-weight:400;color:#1B2438;letter-spacing:0px;font-style:normal;-webkit-text-stroke:0.45px #1B2438">1</div>
<div class="t" style="left:1387.80px;top:871.62px;font-size:13.8px;line-height:13.8px;font-weight:400;color:#1B2438;letter-spacing:0px;font-style:normal;-webkit-text-stroke:0.45px #1B2438">2</div>
<div class="t" style="left:1451.80px;top:871.62px;font-size:13.8px;line-height:13.8px;font-weight:400;color:#1B2438;letter-spacing:0px;font-style:normal;-webkit-text-stroke:0.45px #1B2438">3</div>
<div class="t" style="left:1496.30px;top:871.87px;font-size:13.5px;line-height:13.5px;font-weight:400;color:#1B2438;letter-spacing:0px;font-style:normal;-webkit-text-stroke:0.4px #1B2438;transform:scaleX(0.86);transform-origin:0 0">NEXT</div>
<svg style="position:absolute;left:1533px;top:871px" width="12" height="14" viewBox="0 0 12 14"><path d="M4 2.5 L8.5 7 L4 11.5" fill="none" stroke="#1B2438" stroke-width="2.3"/></svg>
<div style="position:absolute;left:1578px;top:94px;width:317px;height:169px;background:#fff;box-shadow:0 1px 3px rgba(0,0,0,0.06)"></div>
<div class="t" style="left:1602.50px;top:125.76px;font-size:16px;line-height:16px;font-weight:400;color:#111;letter-spacing:1.1px;font-style:normal;-webkit-text-stroke:0.25px #111">Search</div>
<div class="t" style="left:1602.00px;top:152.85px;font-size:14px;line-height:14px;font-weight:400;color:#555;letter-spacing:-0.37px;font-style:normal;">Search by Location Name</div>
<div style="position:absolute;left:1602px;top:186px;width:269px;height:45px;box-sizing:border-box;border:2px solid #DEDEDE;border-radius:23px;background:#fff"></div>
<svg style="position:absolute;left:1620px;top:198px;" width="24" height="24" viewBox="0 0 24 24"><path fill="#111" d="M15.5 14h-.79l-.28-.27C15.41 12.59 16 11.11 16 9.5 16 5.91 13.09 3 9.5 3S3 5.91 3 9.5 5.91 16 9.5 16c1.61 0 3.09-.59 4.23-1.57l.27.28v.79l5 4.99L20.49 19l-4.99-5zm-6 0C7.01 14 5 11.99 5 9.5S7.01 5 9.5 5 14 7.01 14 9.5 11.99 14 9.5 14z"/></svg>
<div class="t" style="left:1653.00px;top:201.35px;font-size:14px;line-height:14px;font-weight:400;color:#A8A8A8;letter-spacing:-0.85px;font-style:italic;">Search Locations...</div>
<div style="position:absolute;left:1578px;top:278px;width:317px;height:478px;background:#fff;box-shadow:0 1px 3px rgba(0,0,0,0.06)"></div>
<div style="position:absolute;left:1578px;top:373px;width:317px;height:2px;background:#EDEDED"></div>
<div style="position:absolute;left:1605px;top:306px;width:263px;height:40px;box-sizing:border-box;border:2.5px solid #111;border-radius:20px"></div>
<div class="t" style="left:1671.50px;top:318.65px;font-size:14px;line-height:14px;font-weight:700;color:#111;letter-spacing:-0.28px;font-style:normal;">Add a New Location</div>
<div class="t" style="left:1605.50px;top:407.18px;font-size:15.5px;line-height:15.5px;font-weight:400;color:#111;letter-spacing:0.5px;font-style:normal;-webkit-text-stroke:0.2px #111">Filters</div>
<div class="t" style="left:1603.00px;top:452.84px;font-size:12px;line-height:12px;font-weight:700;color:#8A8A8A;letter-spacing:1.45px;font-style:normal;">VEHICLE STATUS</div>
<div style="position:absolute;left:1605px;top:477px;width:263px;height:54px;box-sizing:border-box;border:2px solid #EBEBEB;background:#fff"></div>
<div class="t" style="left:1625.00px;top:495.70px;font-size:15px;line-height:15px;font-weight:400;color:#7A7A7A;letter-spacing:-0.4px;font-style:normal;">Select status</div>
<svg style="position:absolute;left:1833px;top:499px" width="14" height="9" viewBox="0 0 14 9"><path d="M1.5 1.5 L7 7 L12.5 1.5" fill="none" stroke="#BDBDBD" stroke-width="1.6"/></svg>
<div class="t" style="left:1603.00px;top:552.84px;font-size:12px;line-height:12px;font-weight:700;color:#8A8A8A;letter-spacing:1.45px;font-style:normal;">ROOM STATUS</div>
<div style="position:absolute;left:1605px;top:577px;width:263px;height:54px;box-sizing:border-box;border:2px solid #EBEBEB;background:#fff"></div>
<div class="t" style="left:1625.00px;top:595.70px;font-size:15px;line-height:15px;font-weight:400;color:#7A7A7A;letter-spacing:-0.4px;font-style:normal;">Select status</div>
<svg style="position:absolute;left:1833px;top:599px" width="14" height="9" viewBox="0 0 14 9"><path d="M1.5 1.5 L7 7 L12.5 1.5" fill="none" stroke="#BDBDBD" stroke-width="1.6"/></svg>
<div class="t" style="left:1603.00px;top:653.44px;font-size:12px;line-height:12px;font-weight:700;color:#8A8A8A;letter-spacing:1.45px;font-style:normal;">TYPE</div>
<div style="position:absolute;left:1605px;top:676px;width:263px;height:54px;box-sizing:border-box;border:2px solid #EBEBEB;background:#fff"></div>
<div class="t" style="left:1625.00px;top:694.70px;font-size:15px;line-height:15px;font-weight:400;color:#7A7A7A;letter-spacing:-0.4px;font-style:normal;">Select type</div>
<svg style="position:absolute;left:1833px;top:698px" width="14" height="9" viewBox="0 0 14 9"><path d="M1.5 1.5 L7 7 L12.5 1.5" fill="none" stroke="#BDBDBD" stroke-width="1.6"/></svg>
</body></html>
